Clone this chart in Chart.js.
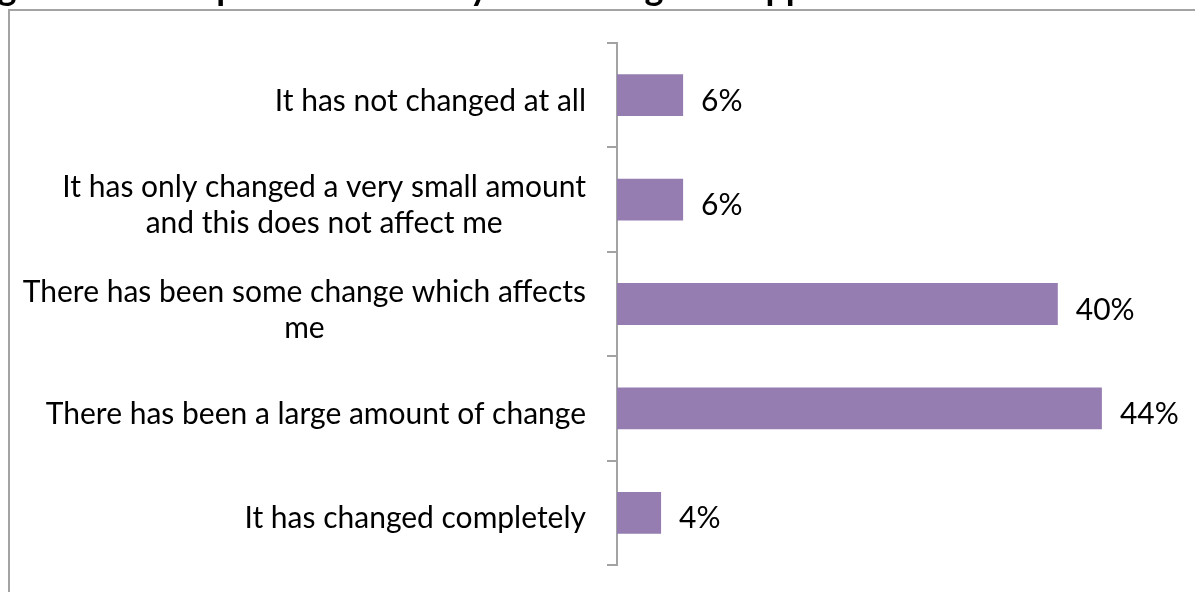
<!DOCTYPE html>
<html lang="en">
<head>
    <meta charset="UTF-8">
    <title>Change chart</title>
    <script src="https://cdn.jsdelivr.net/npm/chart.js"></script>
    <style>
        html, body { margin: 0; padding: 0; background: #fff; }
        #wrap { width: 1195px; height: 592px; }
    </style>
</head>
<body>
    <div id="wrap"><canvas id="changeChart" width="1195" height="592"></canvas></div>

    <script>
        // Data
        const titleText = 'Figure 5: All respondents\' survey: the change in support';
        const categories = [
            ['It has not changed at all'],
            ['It has only changed a very small amount', 'and this does not affect me'],
            ['There has been some change which affects', 'me'],
            ['There has been a large amount of change'],
            ['It has changed completely']
        ];
        const percentages = [6, 6, 40, 44, 4];

        const axisGrey = '#a3a3a3';
        const labelFont = '30px Lato';

        // Frame, clipped title, category labels and value labels
        const textPlugin = {
            id: 'textPlugin',
            afterDraw(chart) {
                const ctx = chart.ctx;
                const xs = chart.scales.x;
                const ys = chart.scales.y;
                ctx.save();

                // outer frame
                ctx.strokeStyle = axisGrey;
                ctx.lineWidth = 2;
                ctx.strokeRect(9, 10, 1300, 700);

                // title (only its lower part falls inside the canvas)
                ctx.fillStyle = '#000';
                ctx.font = 'bold 36px Lato';
                ctx.textAlign = 'left';
                ctx.textBaseline = 'alphabetic';
                ctx.fillText(titleText, -32, 0);

                // category labels, lines centred on each other, block right-aligned
                ctx.font = labelFont;
                ctx.textAlign = 'center';
                ctx.textBaseline = 'middle';
                const rightEdge = 586;
                const lineH = 36;
                categories.forEach((lines, i) => {
                    const widest = Math.max(...lines.map(l => ctx.measureText(l).width));
                    const cx = rightEdge - widest / 2;
                    const cy = ys.getPixelForValue(i) + 6;
                    const top = cy - (lines.length - 1) * lineH / 2;
                    lines.forEach((l, k) => ctx.fillText(l, cx, top + k * lineH));
                });

                // value labels at bar ends
                ctx.textAlign = 'left';
                percentages.forEach((v, i) => {
                    ctx.fillText(v + '%', xs.getPixelForValue(v) + 18, ys.getPixelForValue(i) + 6);
                });
                ctx.restore();
            }
        };

        const ctx1 = document.getElementById('changeChart').getContext('2d');
        const changeChart = new Chart(ctx1, {
            type: 'bar',
            data: {
                labels: categories,
                datasets: [{
                    data: percentages,
                    backgroundColor: '#957db1',
                    borderWidth: 0,
                    categoryPercentage: 1,
                    barPercentage: 0.4
                }]
            },
            options: {
                indexAxis: 'y',
                responsive: false,
                animation: false,
                layout: { padding: { left: 0, right: 27, top: 43, bottom: 27 } },
                plugins: {
                    legend: { display: false },
                    tooltip: { enabled: false }
                },
                scales: {
                    x: { display: false, min: 0, max: 50 },
                    y: {
                        grid: {
                            offset: true,
                            drawOnChartArea: false,
                            drawTicks: true,
                            tickLength: 10,
                            color: axisGrey,
                            lineWidth: 2
                        },
                        border: { display: true, color: axisGrey, width: 2 },
                        ticks: { display: false },
                        afterFit: s => { s.width = 617; }
                    }
                }
            },
            plugins: [textPlugin]
        });
    </script>
</body>
</html>
